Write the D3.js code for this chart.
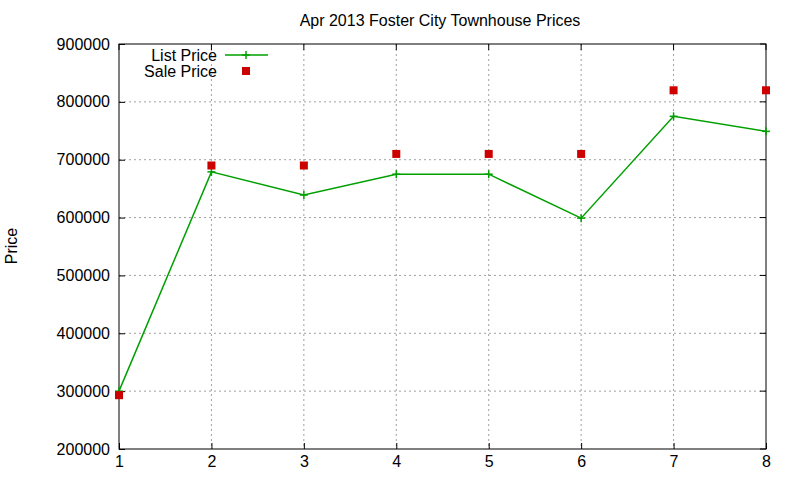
<!DOCTYPE html>
<html><head><meta charset="utf-8">
<script src="https://cdn.jsdelivr.net/npm/d3@7"></script>
<style>body{margin:0;background:#fff}text{font-family:"Liberation Sans",Arial,sans-serif}</style>
</head><body><svg id="c" width="800" height="480"></svg>
<script>
const xs=[1,2,3,4,5,6,7,8];
const listPrice=[300000,679000,639000,675000,675000,599000,775000,749000];
const salePrice=[293000,690000,690000,710000,710000,710000,820000,820000];
const yTicks=[200000,300000,400000,500000,600000,700000,800000,900000];
const svg=d3.select("#c");
const L=119,R=766,T=44,B=449;
const FS=16;
const x=d3.scaleLinear().domain([1,8]).range([L,R]);
const y=d3.scaleLinear().domain([200000,900000]).range([B,T]);
const g=svg.append("g");
g.selectAll(".gx").data(xs.slice(1,-1)).join("line").attr("x1",d=>x(d)).attr("x2",d=>x(d)).attr("y1",T).attr("y2",B).attr("stroke","#a0a0a0").attr("stroke-dasharray","2,3");
g.selectAll(".gy").data(yTicks.slice(1,-1)).join("line").attr("y1",d=>y(d)).attr("y2",d=>y(d)).attr("x1",L).attr("x2",R).attr("stroke","#a0a0a0").attr("stroke-dasharray","2,3");
const ax=svg.append("g").attr("transform",`translate(0,${B})`).call(d3.axisBottom(x).tickValues(xs).tickFormat(d3.format("d")).tickSize(-6).tickPadding(7));
const ay=svg.append("g").attr("transform",`translate(${L},0)`).call(d3.axisLeft(y).tickValues(yTicks).tickFormat(d3.format("d")).tickSize(-6).tickPadding(9));
[ax,ay].forEach(a=>{a.select(".domain").remove();a.selectAll("text").attr("font-size",FS).attr("fill","#000").attr("font-family","Liberation Sans, Arial, sans-serif");a.selectAll("line").attr("stroke","#000");});
svg.selectAll(".tt").data(xs).join("line").attr("x1",d=>x(d)).attr("x2",d=>x(d)).attr("y1",T).attr("y2",T+6).attr("stroke","#000");
svg.selectAll(".rt").data(yTicks).join("line").attr("y1",d=>y(d)).attr("y2",d=>y(d)).attr("x1",R).attr("x2",R-6).attr("stroke","#000");
svg.append("rect").attr("x",L).attr("y",T).attr("width",R-L).attr("height",B-T).attr("fill","none").attr("stroke","#000");
svg.append("text").attr("x",440).attr("y",26).attr("text-anchor","middle").attr("font-size",FS).text("Apr 2013 Foster City Townhouse Prices");
svg.append("text").attr("transform","translate(17,246) rotate(-90)").attr("text-anchor","middle").attr("font-size",FS).text("Price");
const green="#00a000";
svg.append("path").datum(xs.map((d,i)=>[d,listPrice[i]])).attr("fill","none").attr("stroke",green).attr("stroke-width",1.5).attr("d",d3.line().x(d=>x(d[0])).y(d=>y(d[1])));
const plus=(sel)=>sel.each(function(){const s=d3.select(this);s.append("line").attr("x1",-4).attr("x2",4).attr("stroke",green).attr("stroke-width",1.5);s.append("line").attr("y1",-4).attr("y2",4).attr("stroke",green).attr("stroke-width",1.5);});
svg.selectAll(".lp").data(xs).join("g").attr("transform",(d,i)=>`translate(${x(d)},${y(listPrice[i])})`).call(plus);
svg.selectAll(".sp").data(xs).join("rect").attr("x",d=>x(d)-4).attr("y",(d,i)=>y(salePrice[i])-4).attr("width",8).attr("height",8).attr("fill","#cc0000");
svg.append("text").attr("x",217).attr("y",61).attr("text-anchor","end").attr("font-size",FS).text("List Price");
svg.append("line").attr("x1",225).attr("x2",268).attr("y1",55).attr("y2",55).attr("stroke",green).attr("stroke-width",1.5);
svg.append("g").attr("transform","translate(246,55)").call(plus);
svg.append("text").attr("x",217).attr("y",77).attr("text-anchor","end").attr("font-size",FS).text("Sale Price");
svg.append("rect").attr("x",242).attr("y",67).attr("width",8).attr("height",8).attr("fill","#cc0000");
</script></body></html>
